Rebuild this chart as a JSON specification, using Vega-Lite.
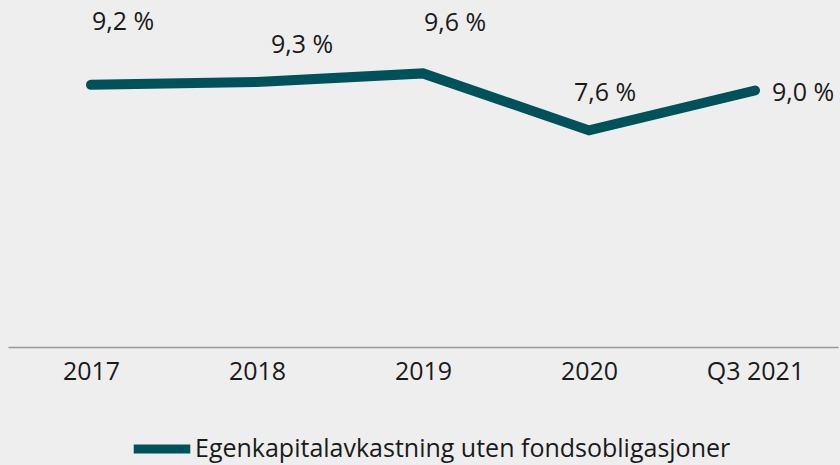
{
  "$schema": "https://vega.github.io/schema/vega-lite/v6.json",
  "width": 830,
  "height": 342,
  "autosize": {"type": "none"},
  "padding": {"left": 8, "top": 5, "right": 2, "bottom": 118},
  "background": "#eeeeee",
  "config": {
    "view": {"stroke": null},
    "font": "Open Sans",
    "text": {"font": "Open Sans"}
  },
  "data": {
    "values": [
      {"period": "2017", "value": 9.2, "series": "Egenkapitalavkastning uten fondsobligasjoner"},
      {"period": "2018", "value": 9.3, "series": "Egenkapitalavkastning uten fondsobligasjoner"},
      {"period": "2019", "value": 9.6, "series": "Egenkapitalavkastning uten fondsobligasjoner"},
      {"period": "2020", "value": 7.6, "series": "Egenkapitalavkastning uten fondsobligasjoner"},
      {"period": "Q3 2021", "value": 9.0, "series": "Egenkapitalavkastning uten fondsobligasjoner"}
    ]
  },
  "transform": [
    {"calculate": "replace(format(datum.value, '.1f'), '.', ',') + ' %'", "as": "label"}
  ],
  "encoding": {
    "x": {
      "field": "period", "type": "ordinal", "sort": null,
      "scale": {"type": "point", "padding": 0.5},
      "axis": {
        "title": null, "labelAngle": 0, "ticks": false, "grid": false,
        "domainColor": "#999999", "domainWidth": 1.5,
        "labelFontSize": 25, "labelColor": "#1a1a1a", "labelPadding": 12,
        "labelFont": "Open Sans"
      }
    },
    "y": {
      "field": "value", "type": "quantitative",
      "scale": {"domain": [0, 12]},
      "axis": null
    }
  },
  "layer": [
    {
      "mark": {"type": "line", "strokeWidth": 10, "strokeCap": "round", "strokeJoin": "miter"},
      "encoding": {
        "color": {
          "field": "series", "type": "nominal",
          "scale": {"range": ["#00525a"]},
          "legend": {
            "title": null, "orient": "none", "legendX": 121, "legendY": 411,
            "symbolType": "stroke",
            "symbolSize": 3200, "symbolStrokeWidth": 9, "labelFontSize": 25,
            "labelColor": "#1a1a1a", "labelFont": "Open Sans",
            "labelLimit": 800, "labelOffset": 0
          }
        }
      }
    },
    {
      "transform": [{"filter": "datum.period == '2017'"}],
      "mark": {"type": "text", "fontSize": 25, "color": "#1a1a1a", "dx": 32, "dy": -63, "baseline": "middle"},
      "encoding": {"text": {"field": "label"}}
    },
    {
      "transform": [{"filter": "datum.period == '2018'"}],
      "mark": {"type": "text", "fontSize": 25, "color": "#1a1a1a", "dx": 45, "dy": -37, "baseline": "middle"},
      "encoding": {"text": {"field": "label"}}
    },
    {
      "transform": [{"filter": "datum.period == '2019'"}],
      "mark": {"type": "text", "fontSize": 25, "color": "#1a1a1a", "dx": 32, "dy": -50, "baseline": "middle"},
      "encoding": {"text": {"field": "label"}}
    },
    {
      "transform": [{"filter": "datum.period == '2020'"}],
      "mark": {"type": "text", "fontSize": 25, "color": "#1a1a1a", "dx": 16, "dy": -37, "baseline": "middle"},
      "encoding": {"text": {"field": "label"}}
    },
    {
      "transform": [{"filter": "datum.period == 'Q3 2021'"}],
      "mark": {"type": "text", "fontSize": 25, "color": "#1a1a1a", "dx": 48, "dy": 2, "baseline": "middle"},
      "encoding": {"text": {"field": "label"}}
    }
  ]
}
